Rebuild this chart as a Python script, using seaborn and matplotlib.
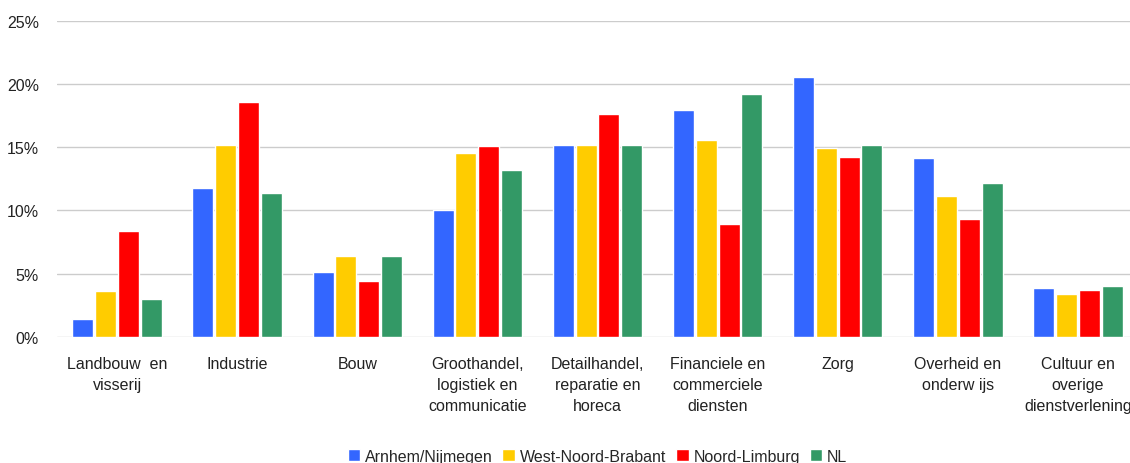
import pandas as pd
import matplotlib.pyplot as plt
import seaborn as sns
from matplotlib.ticker import PercentFormatter

# data (aandeel werkgelegenheid per sector, %)
sectoren = [
    "Landbouw  en\nvisserij",
    "Industrie",
    "Bouw",
    "Groothandel,\nlogistiek en\ncommunicatie",
    "Detailhandel,\nreparatie en\nhoreca",
    "Financiele en\ncommerciele\ndiensten",
    "Zorg",
    "Overheid en\nonderw ijs",
    "Cultuur en\noverige\ndienstverlening",
]
regio = ["Arnhem/Nijmegen", "West-Noord-Brabant", "Noord-Limburg", "NL"]
arnhem = [1.4, 11.8, 5.1, 10.0, 15.2, 17.9, 20.5, 14.1, 3.9]
wnb = [3.6, 15.2, 6.4, 14.5, 15.2, 15.6, 14.9, 11.1, 3.4]
limburg = [8.4, 18.6, 4.4, 15.1, 17.6, 8.9, 14.2, 9.3, 3.7]
nl = [3.0, 11.4, 6.4, 13.2, 15.2, 19.2, 15.2, 12.2, 4.0]
kleuren = ["#3366ff", "#ffcc00", "#ff0000", "#339966"]

rows = []
for naam, waarden in zip(regio, [arnhem, wnb, limburg, nl]):
    for s, v in zip(sectoren, waarden):
        rows.append({"sector": s, "regio": naam, "aandeel": v})
df = pd.DataFrame(rows)

sns.set_style("white")
plt.rcParams["font.family"] = ["Liberation Sans", "DejaVu Sans"]

fig = plt.figure(figsize=(11.3, 4.64), dpi=100)
ax = fig.add_axes([57 / 1130, 1 - 338 / 464, 1081 / 1130, (338 - 21.5) / 464])

sns.barplot(data=df, x="sector", y="aandeel", hue="regio", order=sectoren,
            hue_order=regio, palette=kleuren, width=0.76, gap=0.08,
            saturation=1, ax=ax, legend=True)

ax.set_ylim(0, 25)
ax.set_xlim(-0.5, len(sectoren) - 0.5)
ax.set_yticks([0, 5, 10, 15, 20, 25])
ax.yaxis.set_major_formatter(PercentFormatter(decimals=0))
ax.grid(axis="y", color="#cccccc", linewidth=1)
ax.set_axisbelow(True)
for sp in ax.spines.values():
    sp.set_visible(False)
ax.tick_params(axis="both", length=0, labelsize=11.5, colors="#222222")
ax.tick_params(axis="x", pad=14)
ax.tick_params(axis="y", pad=13)
ax.set_xlabel("")
ax.set_ylabel("")
for lbl in ax.get_xticklabels():
    lbl.set_linespacing(1.5)

ax.legend(loc="upper center", bbox_to_anchor=(0.5, -0.308), ncol=4,
          frameon=False, fontsize=11.5, handlelength=0.8, handleheight=0.8,
          handletextpad=0.3, columnspacing=0.6)

fig.savefig("out.png", dpi=100)
